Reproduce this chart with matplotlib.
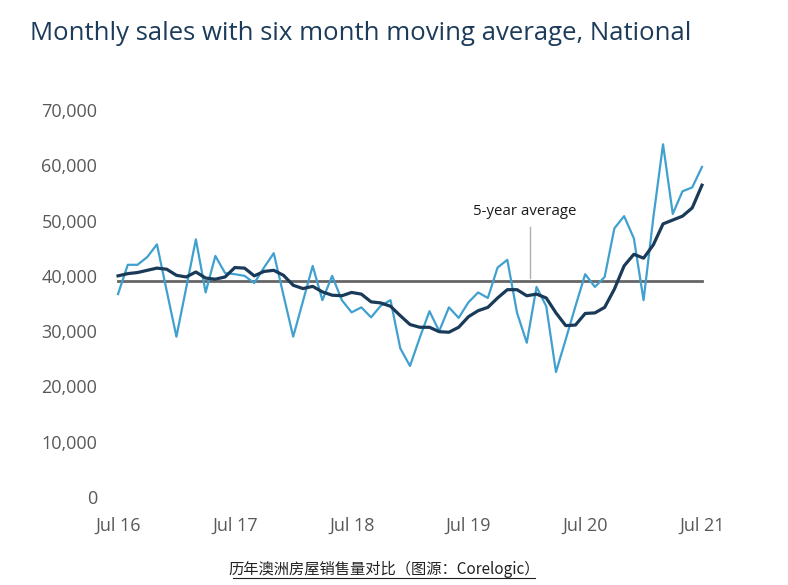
import numpy as np
import matplotlib
matplotlib.use("Agg")
import matplotlib.pyplot as plt
from matplotlib.lines import Line2D

# monthly sales, Jul 16 .. Jul 21
sales = [36700, 42000, 42000, 43400, 45700, 37300, 29000, 37800, 46600, 37000,
         43600, 40500, 40300, 40000, 38700, 41500, 44100, 36500, 29000, 35400,
         41800, 35600, 40000, 35600, 33400, 34300, 32500, 34600, 35600, 26900,
         23700, 28800, 33600, 30000, 34300, 32400, 35200, 37000, 36000, 41500,
         42900, 33300, 27900, 38000, 34500, 22600, 28500, 34500, 40300, 38000,
         39800, 48600, 50800, 46800, 35600, 50500, 63800, 51200, 55300, 56000,
         59700]
# six month moving average
mov_avg = [40000, 40400, 40600, 41000, 41400, 41200, 40100, 39800, 40700, 39600,
           39400, 39800, 41500, 41400, 40000, 40800, 41000, 40100, 38300, 37700,
           38100, 37100, 36500, 36400, 37000, 36700, 35300, 35100, 34500, 32800,
           31200, 30700, 30700, 29900, 29800, 30700, 32600, 33700, 34300, 36000,
           37500, 37500, 36400, 36700, 36000, 33300, 31000, 31100, 33200, 33300,
           34300, 37600, 41800, 43900, 43200, 45600, 49400, 50100, 50800, 52300,
           56400]
five_year_avg = 39000

xtick_labels = ["Jul 16", "Jul 17", "Jul 18", "Jul 19", "Jul 20", "Jul 21"]
ytick_vals = [0, 10000, 20000, 30000, 40000, 50000, 60000, 70000]

months = np.arange(len(sales))

fig = plt.figure(figsize=(7.88, 5.85), dpi=100)
# axes placed so that Jul 16 sits at x=118px and Jul 21 at x=702px
ax = fig.add_axes([108.3 / 788, 88 / 585, 603.4 / 788, 387 / 585])

ax.plot(months, sales, color="#40a0cf", lw=1.6, zorder=3)
ax.plot(months, mov_avg, color="#193a58", lw=2.3, zorder=4)
ax.plot([0, 60], [five_year_avg, five_year_avg], color="#666666", lw=2.0, zorder=2)

# annotation for the 5-year average
ax.plot([42.3, 42.3], [five_year_avg + 600, 48800], color="#b0b0b0", lw=1.0, zorder=1)
ax.text(41.8, 51600, "5-year average", ha="center", va="center", fontsize=10.8,
        color="#1a1a1a", family="Open Sans")

ax.set_xlim(-1, 61)
ax.set_ylim(0, 70000)
ax.set_xticks(np.arange(0, 61, 12))
ax.set_xticklabels(xtick_labels)
ax.set_yticks(ytick_vals)
ax.set_yticklabels([f"{v:,}" for v in ytick_vals])
ax.tick_params(length=0, labelsize=13, labelcolor="#595959")
ax.tick_params(axis="x", pad=14)
ax.tick_params(axis="y", pad=8)
for lab in ax.get_xticklabels() + ax.get_yticklabels():
    lab.set_family("Open Sans")
for s in ax.spines.values():
    s.set_visible(False)

fig.text(30 / 788, 1 - 33 / 585, "Monthly sales with six month moving average, National",
         fontsize=18.5, color="#1c3b5a", family="Open Sans", va="center", ha="left")

fig.text(384 / 788, 1 - 569 / 585, "历年澳洲房屋销售量对比（图源：Corelogic）",
         fontsize=11, color="#222222", family=["Noto Sans CJK SC", "DejaVu Sans"],
         va="center", ha="center", style="italic")
fig.add_artist(Line2D([233 / 788, 535 / 788], [1 - 578 / 585, 1 - 578 / 585],
                      color="#222222", lw=0.8))

fig.savefig("out.png", dpi=100)
